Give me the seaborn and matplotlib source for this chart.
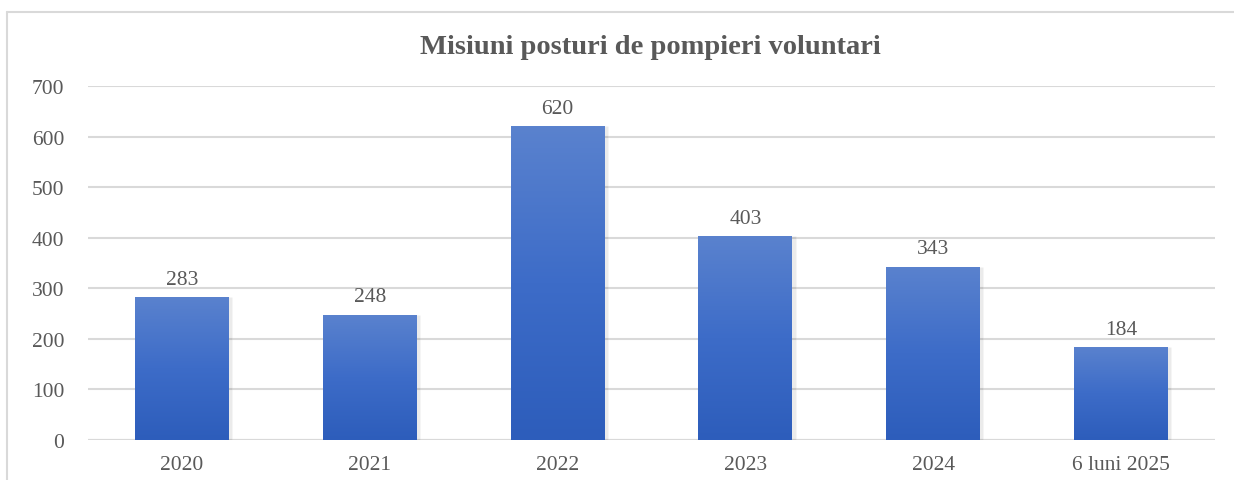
import numpy as np
import matplotlib
matplotlib.use("Agg")
import matplotlib.pyplot as plt
from matplotlib.colors import LinearSegmentedColormap
from matplotlib.lines import Line2D
import seaborn as sns
import pandas as pd

# data
categories = ["2020", "2021", "2022", "2023", "2024", "6 luni 2025"]
values = [283, 248, 620, 403, 343, 184]
title = "Misiuni posturi de pompieri voluntari"

sns.set_theme(style="white")
plt.rcParams["font.family"] = ["Liberation Serif", "DejaVu Serif"]

text_col = "#595959"
grid_col = "#D9D9D9"
fs = 15.5

df = pd.DataFrame({"an": categories, "misiuni": values})

fig = plt.figure(figsize=(12.34, 4.81), dpi=100)
ax = fig.add_axes([88 / 1234, 1 - 441 / 481, (1215 - 88) / 1234, (441 - 87) / 481])

sns.barplot(data=df, x="an", y="misiuni", color="#4472C4", width=0.5,
            saturation=1, ax=ax, zorder=2)

bars = ax.containers[0]
ax.bar_label(bars, labels=[str(v) for v in values], padding=6,
             fontsize=fs, color=text_col)

# vertical gradient on each bar
cmap = LinearSegmentedColormap.from_list("blu", ["#2D5DBB", "#3D6CC8", "#5A82CE"])
grad = np.linspace(0, 1, 256).reshape(-1, 1)
for p in list(bars):
    x0, y0 = p.get_x(), p.get_y()
    w, h = p.get_width(), p.get_height()
    # soft shadow
    ax.bar(x0 + w / 2 + 0.012, h, width=w + 0.01, bottom=0, color="#000000",
           alpha=0.08, zorder=1.5)
    p.set_facecolor("none")
    p.set_edgecolor("none")
    im = ax.imshow(grad, extent=[x0, x0 + w, y0, y0 + h], origin="lower",
                   aspect="auto", cmap=cmap, zorder=2.5)
    im.set_clip_path(p)

ax.set_xlim(-0.5, len(categories) - 0.5)
ax.set_ylim(0, 700)
ax.set_yticks(range(0, 701, 100))
ax.yaxis.grid(True, color=grid_col, linewidth=1.5, zorder=0)
ax.set_axisbelow(True)
for s in ax.spines.values():
    s.set_visible(False)
ax.axhline(0, color=grid_col, linewidth=1.5, zorder=1)
ax.tick_params(axis="y", length=0, pad=17, labelsize=fs, labelcolor=text_col)
ax.tick_params(axis="x", length=0, pad=11, labelsize=fs, labelcolor=text_col)
ax.set_xlabel("")
ax.set_ylabel("")

fig.text(650 / 1234, 1 - 47 / 481, title, ha="center", va="center",
         fontsize=20.5, fontweight="bold", color=text_col)

# chart frame (cut at right and bottom)
fig.add_artist(Line2D([7 / 1234, 1], [1 - 13 / 481, 1 - 13 / 481],
                      transform=fig.transFigure, color="#D9D9D9", linewidth=1.5))
fig.add_artist(Line2D([7 / 1234, 7 / 1234], [0, 1 - 13 / 481],
                      transform=fig.transFigure, color="#D9D9D9", linewidth=1.5))

fig.savefig("out.png", dpi=100)
